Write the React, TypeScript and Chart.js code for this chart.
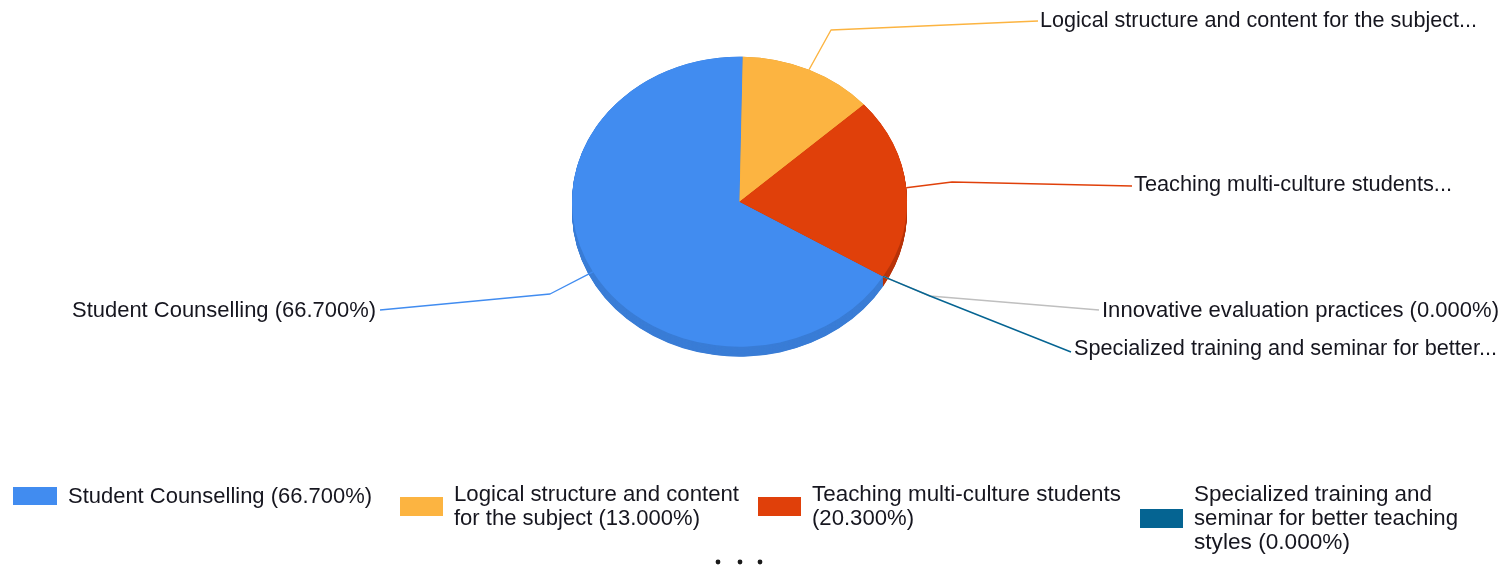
import React, { useEffect, useRef } from "react";
import { Chart, registerables } from "chart.js";

Chart.register(...registerables);

const categories = [
  "Student Counselling",
  "Logical structure and content for the subject",
  "Teaching multi-culture students",
  "Specialized training and seminar for better teaching styles",
  "Innovative evaluation practices",
];
const shares = [66.7, 13.0, 20.3, 0.0, 0.0];
const colors = ["#418CF0", "#FCB441", "#E0400A", "#056492", "#BFBFBF"];
const depthColors = ["#3A7DD6", "#E0A03A", "#B8340A", "#04506F", "#A0A0A0"];
const calloutLabels = [
  "Student Counselling (66.700%)",
  "Logical structure and content for the subject...",
  "Teaching multi-culture students...",
  "Specialized training and seminar for better...",
  "Innovative evaluation practices (0.000%)",
];
const legendLines = [
  ["Student Counselling (66.700%)"],
  ["Logical structure and content", "for the subject (13.000%)"],
  ["Teaching multi-culture students", "(20.300%)"],
  ["Specialized training and", "seminar for better teaching", "styles (0.000%)"],
];

// layout only
const W = 1509;
const H = 567;
const FONT_PX = 22;
const TEXT_COLOR = "#16161f";
const CY_TARGET = 201.7;
const SQUASH = 145 / 167.5;
const DEPTH = 10;
const callouts = [
  { elbow: [550, 294], end: [380, 310], textX: 72, textY: 311, width: 304 },
  { elbow: [831, 30], end: [1038, 21], textX: 1040, textY: 21, width: 437 },
  { elbow: [952, 182], end: [1132, 186], textX: 1134, textY: 185, width: 318 },
  { elbow: [930, 296], end: [1071, 352], textX: 1074, textY: 349, width: 423 },
  { elbow: [930, 296], end: [1099, 310], textX: 1102, textY: 311, width: 397 },
];
const calloutDrawOrder = [4, 3, 0, 1, 2];
const legendLayout = [
  { swatch: [13, 487, 44, 18], textX: 68, lineY: [497], widths: [304] },
  { swatch: [400, 497, 43, 19], textX: 454, lineY: [495, 519], widths: [285, 246] },
  { swatch: [758, 497, 43, 19], textX: 812, lineY: [495, 519], widths: [309, 102] },
  { swatch: [1140, 509, 43, 19], textX: 1194, lineY: [495, 519, 543], widths: [238, 264, 156] },
];
const pagerDots = [718, 740, 760];
const pagerY = 562;

function fittedText(ctx: CanvasRenderingContext2D, text: string, x: number, y: number, width: number) {
  ctx.save();
  ctx.font = `${FONT_PX}px "Liberation Sans", Arial, sans-serif`;
  ctx.fillStyle = TEXT_COLOR;
  ctx.textBaseline = "middle";
  ctx.textAlign = "left";
  const natural = ctx.measureText(text).width;
  ctx.translate(x, y);
  ctx.scale(width / natural, 1);
  ctx.fillText(text, 0, 0);
  ctx.restore();
}

const ellipsePlugin = {
  id: "ellipsePie",
  beforeDatasetsDraw(chart: any) {
    const { ctx } = chart;
    const arcs = chart.getDatasetMeta(0).data;
    const { x: cx, y: cy } = arcs[0];
    ctx.save();
    ctx.translate(0, CY_TARGET);
    ctx.scale(1, SQUASH);
    ctx.translate(0, -cy);
    for (let d = DEPTH / SQUASH; d > 0; d -= 0.5) {
      arcs.forEach((arc: any, i: number) => {
        if (arc.endAngle - arc.startAngle <= 0) return;
        ctx.beginPath();
        ctx.moveTo(cx, cy + d);
        ctx.arc(cx, cy + d, arc.outerRadius, arc.startAngle, arc.endAngle);
        ctx.closePath();
        ctx.fillStyle = depthColors[i];
        ctx.fill();
      });
    }
  },
  afterDatasetsDraw(chart: any) {
    chart.ctx.restore();
  },
};

const annotationPlugin = {
  id: "annotations",
  afterDraw(chart: any) {
    const { ctx } = chart;
    const arcs = chart.getDatasetMeta(0).data;
    calloutDrawOrder.forEach((i) => {
      const arc = arcs[i];
      const c = callouts[i];
      const mid = (arc.startAngle + arc.endAngle) / 2;
      const sx = arc.x + arc.outerRadius * Math.cos(mid);
      const sy = CY_TARGET + arc.outerRadius * SQUASH * Math.sin(mid);
      ctx.save();
      ctx.strokeStyle = colors[i];
      ctx.lineWidth = 1.4;
      ctx.lineJoin = "round";
      ctx.beginPath();
      ctx.moveTo(sx, sy);
      ctx.lineTo(c.elbow[0], c.elbow[1]);
      ctx.lineTo(c.end[0], c.end[1]);
      ctx.stroke();
      ctx.restore();
      fittedText(ctx, calloutLabels[i], c.textX, c.textY, c.width);
    });
    legendLayout.forEach((l, i) => {
      ctx.fillStyle = colors[i];
      ctx.fillRect(l.swatch[0], l.swatch[1], l.swatch[2], l.swatch[3]);
      legendLines[i].forEach((line, j) => fittedText(ctx, line, l.textX, l.lineY[j], l.widths[j]));
    });
    ctx.fillStyle = "#1a1a1a";
    pagerDots.forEach((x) => {
      ctx.beginPath();
      ctx.arc(x, pagerY, 2.4, 0, Math.PI * 2);
      ctx.fill();
    });
  },
};

export default function App() {
  const ref = useRef<HTMLCanvasElement>(null);
  useEffect(() => {
    document.body.style.margin = "0";
    const chart = new Chart(ref.current!, {
      type: "pie",
      data: {
        labels: categories,
        datasets: [{ data: shares, backgroundColor: colors, borderWidth: 0 }],
      },
      options: {
        responsive: false,
        animation: false,
        rotation: 121,
        layout: { padding: { left: 572, right: 602, top: 34, bottom: 198 } },
        plugins: { legend: { display: false }, tooltip: { enabled: false }, title: { display: false } },
      },
      plugins: [ellipsePlugin, annotationPlugin],
    } as any);
    return () => chart.destroy();
  }, []);
  return <canvas ref={ref} width={W} height={H} style={{ display: "block", width: W, height: H, filter: "blur(0.4px)" }} />;
}
